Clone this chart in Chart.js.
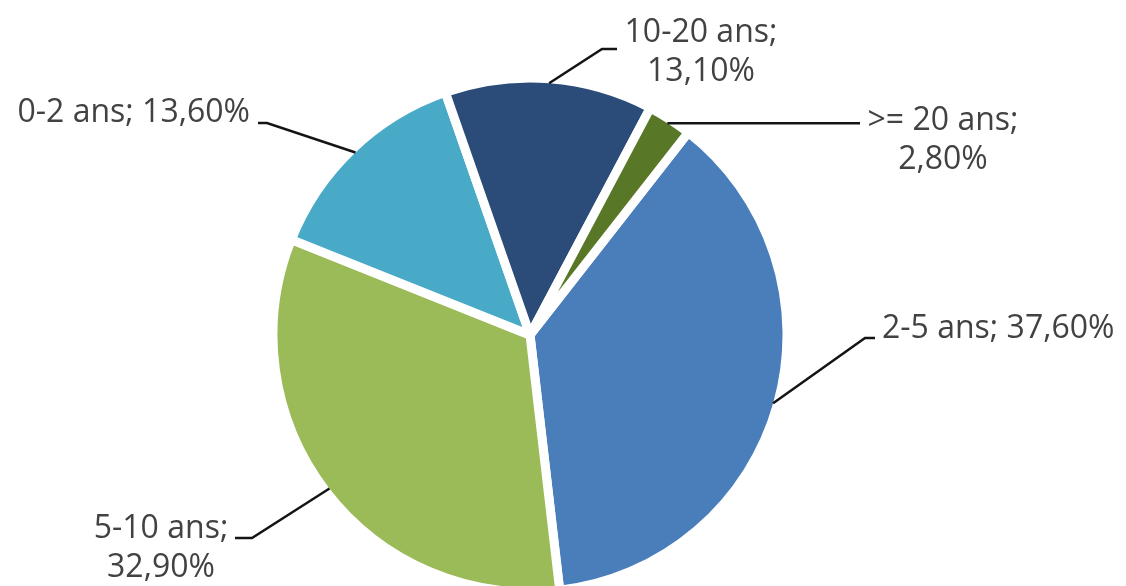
<!DOCTYPE html>
<html lang="fr">
<head>
<meta charset="utf-8">
<title>Répartition par ancienneté</title>
<script src="https://cdn.jsdelivr.net/npm/chart.js@4.4.1/dist/chart.umd.min.js"></script>
<style>
  html, body { margin: 0; padding: 0; background: #ffffff; }
  canvas { display: block; }
</style>
</head>
<body>
<canvas id="pieChart" width="1126" height="586"></canvas>
<script>
// Data (clockwise from the slice starting at ~38 degrees)
const categories = ['2-5 ans', '5-10 ans', '0-2 ans', '10-20 ans', '>= 20 ans'];
const shares = [37.6, 32.9, 13.6, 13.1, 2.8];
const valueLabels = ['37,60%', '32,90%', '13,60%', '13,10%', '2,80%'];
const sliceColors = ['#4a7ebb', '#9bbb59', '#48aac7', '#2b4b78', '#587827'];

// Label placement relative to the pie centre (annotation layout only)
// tx/ty = text anchor (first baseline), elbow = leader bend, hx = end of the horizontal stub
const labelLayout = [
  { wrap: false, align: 'left',   tx: 352,  ty: 3,    elbow: [335, 3],     hx: 345 },
  { wrap: true,  align: 'center', tx: -369, ty: 203,  elbow: [-278, 203],  hx: -295 },
  { wrap: false, align: 'right',  tx: -280, ty: -213, elbow: [-263, -212], hx: -272 },
  { wrap: true,  align: 'center', tx: 171,  ty: -293, elbow: [72, -286],   hx: 87 },
  { wrap: true,  align: 'center', tx: 413,  ty: -205, elbow: null,         hx: 330 }
];

const GAP = 9;          // white separation between slices
const LINE_HEIGHT = 39;

// ============================================================================
// LEADER LINES + DATA LABELS
// ============================================================================
const leaderLabels = {
  id: 'leaderLabels',
  afterDatasetsDraw(chart) {
    const ctx = chart.ctx;
    const meta = chart.getDatasetMeta(0);
    ctx.save();
    ctx.font = "32px 'Open Sans', sans-serif";
    ctx.fillStyle = '#424242';
    ctx.strokeStyle = '#141414';
    ctx.lineWidth = 2.5;
    ctx.lineJoin = 'miter';
    ctx.textBaseline = 'alphabetic';

    meta.data.forEach((arc, i) => {
      const p = arc.getProps(['x', 'y', 'startAngle', 'endAngle', 'outerRadius'], true);
      const mid = (p.startAngle + p.endAngle) / 2;
      const r = p.outerRadius - GAP / 2;
      const ax = p.x + Math.cos(mid) * r;
      const ay = p.y + Math.sin(mid) * r;
      const lay = labelLayout[i];

      // leader line
      ctx.beginPath();
      ctx.moveTo(ax, ay);
      if (lay.elbow) {
        const ex = p.x + lay.elbow[0];
        const ey = p.y + lay.elbow[1];
        ctx.lineTo(ex, ey);
        ctx.lineTo(p.x + lay.hx, ey);
      } else {
        ctx.lineTo(p.x + lay.hx, ay);
      }
      ctx.stroke();

      // text
      const lines = lay.wrap
        ? [categories[i] + ';', valueLabels[i]]
        : [categories[i] + '; ' + valueLabels[i]];
      ctx.textAlign = lay.align;
      lines.forEach((t, k) => {
        ctx.fillText(t, p.x + lay.tx, p.y + lay.ty + k * LINE_HEIGHT);
      });
    });
    ctx.restore();
  }
};

const pieChart = new Chart(document.getElementById('pieChart'), {
  type: 'pie',
  data: {
    labels: categories,
    datasets: [{
      data: shares,
      backgroundColor: sliceColors,
      borderColor: '#ffffff',
      borderWidth: GAP,
      clip: false
    }]
  },
  options: {
    responsive: false,
    animation: false,
    rotation: 38,
    radius: 257,
    layout: {
      padding: { left: 0, right: 66, top: 84, bottom: 0 }
    },
    plugins: {
      legend: { display: false },
      title: { display: false },
      tooltip: { enabled: false }
    }
  },
  plugins: [leaderLabels]
});
</script>
</body>
</html>
